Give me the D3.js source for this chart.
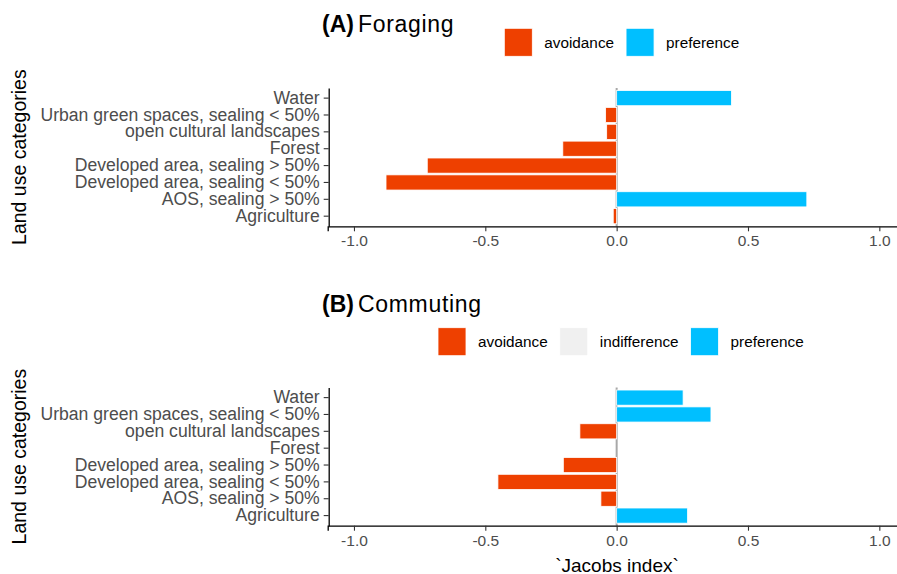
<!DOCTYPE html>
<html>
<head>
<meta charset="utf-8">
<script src="https://cdn.jsdelivr.net/npm/d3@7"></script>
<style>
    body { margin: 0; background: #fff; }
    text { font-family: "Liberation Sans", Arial, sans-serif; }
</style>
</head>
<body>
<div id="chart"></div>
<script>
// land use categories, top to bottom
const categories = [
    "Water",
    "Urban green spaces, sealing < 50%",
    "open cultural landscapes",
    "Forest",
    "Developed area, sealing > 50%",
    "Developed area, sealing < 50%",
    "AOS, sealing > 50%",
    "Agriculture"
];

// Jacobs index
const foragingValues = [0.437, -0.042, -0.038, -0.205, -0.721, -0.878, 0.724, -0.013];
const foragingClass = ["preference", "avoidance", "avoidance", "avoidance", "avoidance", "avoidance", "preference", "avoidance"];

const commutingValues = [0.253, 0.359, -0.140, 0, -0.203, -0.452, -0.060, 0.270];
const commutingClass = ["preference", "preference", "avoidance", "indifference", "avoidance", "avoidance", "avoidance", "preference"];

const xTicks = [-1, -0.5, 0, 0.5, 1];
const xTickLabels = ["-1.0", "-0.5", "0.0", "0.5", "1.0"];
const xDomain = [-1.1, 1.1];

const classColors = {
    avoidance: "#EE4000",
    indifference: "#F0F0F0",
    preference: "#00BFFF"
};

const dimensions = {
    width: 897,
    height: 574,
    plotLeft: 327.7,
    plotRight: 905.6
};

const svg = d3.select("#chart").append("svg")
    .attr("width", dimensions.width)
    .attr("height", dimensions.height);

// x scale is the same for both panels
const xScale = d3.scaleLinear()
    .domain(xDomain)
    .range([dimensions.plotLeft, dimensions.plotRight]);

function drawPanel(p) {
    const g = svg.append("g");

    //TITLE
    const title = g.append("text")
        .attr("x", 322)
        .attr("y", p.titleY)
        .attr("font-size", "23px")
        .attr("fill", "#000");
    title.append("tspan").attr("font-weight", "bold").text(p.tag);
    title.append("tspan").attr("dx", 4).attr("letter-spacing", "0.7px").text(p.name);

    //LEGEND
    let lx = p.legendX;
    p.legend.forEach(k => {
        g.append("rect")
            .attr("x", lx)
            .attr("y", p.legendY)
            .attr("width", 28)
            .attr("height", 28)
            .attr("fill", classColors[k])
            .attr("stroke", "#fff")
            .attr("stroke-width", 0.8);
        const t = g.append("text")
            .attr("x", lx + 40)
            .attr("y", p.legendY + 14)
            .attr("dy", "0.35em")
            .attr("font-size", "15.3px")
            .attr("fill", "#000")
            .text(k);
        lx = lx + 40 + t.node().getComputedTextLength() + 12;
    });

    //Y SCALE
    const yScale = d3.scaleBand()
        .domain(categories)
        .range([p.top, p.bottom])
        .paddingInner(0.1)
        .paddingOuter(0.15);

    //ZERO LINE
    g.append("line")
        .attr("x1", xScale(0))
        .attr("x2", xScale(0))
        .attr("y1", p.top)
        .attr("y2", p.bottom)
        .attr("stroke", "#A8A8A8")
        .attr("stroke-width", 2);

    //BARS
    const rows = categories.map((c, i) => ({ cat: c, value: p.values[i], cls: p.classes[i] }));
    g.selectAll(".bar")
        .data(rows.filter(d => d.value !== 0))
        .enter()
        .append("rect")
        .attr("class", "bar")
        .attr("x", d => xScale(Math.min(0, d.value)))
        .attr("y", d => yScale(d.cat))
        .attr("width", d => Math.abs(xScale(d.value) - xScale(0)))
        .attr("height", yScale.bandwidth())
        .attr("fill", d => classColors[d.cls])
        .attr("stroke", "#fff")
        .attr("stroke-width", 0.8);

    //X AXIS
    const xAxis = g.append("g")
        .attr("transform", `translate(0, ${p.bottom})`)
        .call(d3.axisBottom(xScale).tickValues(xTicks)
            .tickFormat((d, i) => xTickLabels[i]).tickSize(5).tickPadding(4));
    xAxis.select(".domain").attr("stroke", "#000").attr("stroke-width", 1.3);
    xAxis.selectAll(".tick line").attr("stroke", "#333").attr("stroke-width", 1.1);
    xAxis.selectAll(".tick text")
        .attr("font-size", "15.5px")
        .attr("font-family", "Liberation Sans, Arial, sans-serif")
        .attr("fill", "#4D4D4D");

    //Y AXIS
    const yAxis = g.append("g")
        .attr("transform", `translate(${dimensions.plotLeft + 1}, 0)`)
        .call(d3.axisLeft(yScale).tickSize(5).tickPadding(4).tickSizeOuter(0));
    yAxis.select(".domain").attr("stroke", "#000").attr("stroke-width", 1.3);
    yAxis.selectAll(".tick line").attr("stroke", "#333").attr("stroke-width", 1.1);
    yAxis.selectAll(".tick text")
        .attr("font-size", "17.6px")
        .attr("font-family", "Liberation Sans, Arial, sans-serif")
        .attr("fill", "#4D4D4D");

    //Y TITLE
    g.append("text")
        .attr("transform", `translate(26, ${(p.top + p.bottom) / 2}) rotate(-90)`)
        .attr("text-anchor", "middle")
        .attr("font-size", "19.5px")
        .attr("fill", "#000")
        .text("Land use categories");
}

drawPanel({
    tag: "(A)", name: "Foraging",
    values: foragingValues, classes: foragingClass,
    legend: ["avoidance", "preference"],
    legendX: 504.3, legendY: 28.3,
    titleY: 31.5,
    top: 88, bottom: 226.3
});

drawPanel({
    tag: "(B)", name: "Commuting",
    values: commutingValues, classes: commutingClass,
    legend: ["avoidance", "indifference", "preference"],
    legendX: 438, legendY: 327.7,
    titleY: 311.5,
    top: 387.5, bottom: 525.7
});

//X TITLE
svg.append("text")
    .attr("x", 617)
    .attr("y", 571.5)
    .attr("text-anchor", "middle")
    .attr("font-size", "19px")
    .attr("fill", "#000")
    .text("`Jacobs index`");
</script>
</body>
</html>
